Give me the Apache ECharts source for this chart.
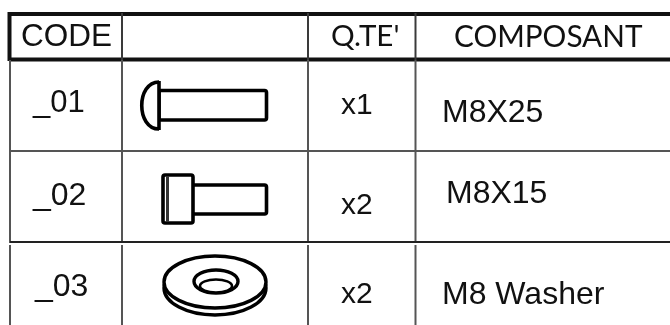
<!DOCTYPE html>
<html><head><meta charset="utf-8">
<style>html,body{margin:0;padding:0;background:#fff}#c{width:670px;height:325px;filter:blur(0.5px)}</style>
<script src="https://cdn.jsdelivr.net/npm/echarts@6/dist/echarts.min.js"></script>
</head><body><div id="c"></div>
<script>
const headers = ["CODE", "Q.TE'", "COMPOSANT"];
const codes = ["_01", "_02", "_03"];
const quantities = ["x1", "x2", "x2"];
const components = ["M8X25", "M8X15", "M8 Washer"];

const SANS = '"Liberation Sans", Arial, sans-serif';
const GEO = 'Lato, sans-serif';
const ink = '#111';
function line(x1,y1,x2,y2,w,c){return {type:'line',shape:{x1,y1,x2,y2},style:{stroke:c||'#3a3a3a',lineWidth:w}};}
function txt(t,x,y,size,font,sx){return {type:'text',x,y,scaleX:sx||1,style:{text:t,x:0,y:0,font:size+'px '+font,fill:ink,textAlign:'left',textVerticalAlign:'middle'}};}
function rect(x,y,w,h,r,lw){return {type:'rect',shape:{x,y,width:w,height:h,r:r||0},style:{fill:'#fff',stroke:'#000',lineWidth:lw||3.6}};}
function ell(cx,cy,rx,ry,lw,fill){return {type:'ellipse',shape:{cx,cy,rx,ry},style:{fill:fill||'#fff',stroke:'#000',lineWidth:lw||3.4}};}

const gridLines = [
  line(10,14,670,14,4,'#111'), line(10,59.5,670,59.5,4,'#111'),
  line(9.5,12,9.5,61,4,'#111'),
  line(122,13,122,60,2), line(308,13,308,60,2), line(415.5,13,415.5,60,2),
  line(10,60,10,243,2,'#555'), line(122,60,122,243,2,'#555'), line(308,60,308,243,2,'#555'), line(415.5,60,415.5,243,2,'#555'),
  line(10,245,10,325,2,'#555'), line(122,245,122,325,2,'#555'), line(308,245,308,325,2,'#555'), line(415.5,245,415.5,325,2,'#555'),
  line(10,151,670,151,2,'#555'), line(10,242,670,242,2,'#222')
];
const headerPos = [[21,37,31.5,SANS,1],[331,37,29,GEO,1.02],[454,37,30,GEO,0.99]];
const codeSize = [31,32,32];
const codePos = [[33,103],[33,196],[35,287]];
const qtyPos = [[341,106],[341,206],[341,295]];
const compPos = [[442,113],[446,194],[442,295]];
const texts = [];
headers.forEach((t,i)=>{const p=headerPos[i];texts.push(txt(t,p[0],p[1],p[2],p[3],p[4]));});
codes.forEach((t,i)=>texts.push(txt(t,codePos[i][0],codePos[i][1],codeSize[i],SANS)));
quantities.forEach((t,i)=>texts.push(txt(t,qtyPos[i][0],qtyPos[i][1],30,SANS)));
components.forEach((t,i)=>texts.push(txt(t,compPos[i][0],compPos[i][1],32,SANS)));

const parts = [
  rect(159,90.5,107.5,29.5,2),
  {type:'bezierCurve',shape:{x1:159,y1:82,x2:159,y2:129,cpx1:136,cpy1:82,cpx2:136,cpy2:129},style:{fill:'#fff',stroke:'#000',lineWidth:3.6}},
  line(159,81,159,130,3.6,'#000'),
  rect(192,185,74.5,29,2),
  rect(163,175,30,48,2),
  line(167.5,176,167.5,222,3,'#333'),
  ell(215,288,51,27),
  ell(215,282,51,26),
  ell(216,281.5,22,11.5),
  ell(216,286,16,6.5,2.6)
];

const chart = echarts.init(document.getElementById('c'),null,{renderer:'canvas'});
chart.setOption({animation:false,backgroundColor:'#fff',graphic:{elements:[...gridLines,...parts,...texts]}});
</script></body></html>
